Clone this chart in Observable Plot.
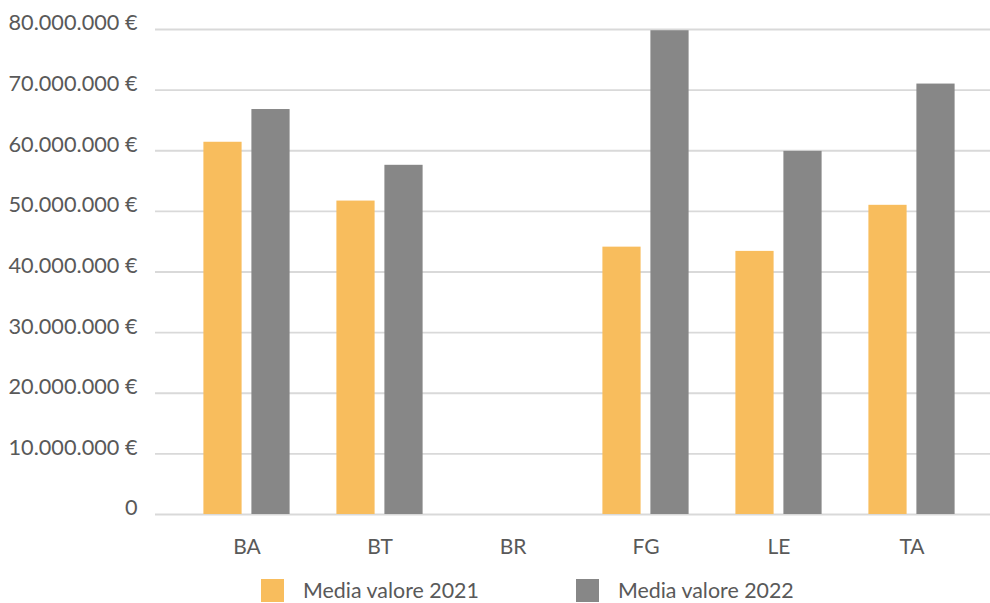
<!DOCTYPE html>
<html>
<head>
<meta charset="utf-8">
<script src="https://cdn.jsdelivr.net/npm/d3@7"></script>
<script src="https://cdn.jsdelivr.net/npm/@observablehq/plot@0.6"></script>
<style>
  html, body { margin: 0; padding: 0; background: #fff; }
  body { width: 990px; height: 603px; overflow: hidden; font-family: Lato, "Open Sans", sans-serif; color: #595959; }
  #legend { display: flex; align-items: flex-start; padding-left: 261px; padding-top: 13px; height: 24px; font-size: 21.4px; }
  .item { display: flex; align-items: center; }
  .item span { line-height: 1.1; }
  .sw { width: 23px; height: 23px; margin-right: 19px; }
</style>
</head>
<body>
<div id="chart"></div>
<div id="legend"></div>
<script>
const categories = ["BA", "BT", "BR", "FG", "LE", "TA"];
const values2021 = [61.4e6, 51.7e6, null, 44.1e6, 43.4e6, 51.0e6];
const values2022 = [66.8e6, 57.6e6, null, 79.8e6, 59.9e6, 71.0e6];
const yTicks = [0, 10e6, 20e6, 30e6, 40e6, 50e6, 60e6, 70e6, 80e6];
const seriesNames = ["Media valore 2021", "Media valore 2022"];
const seriesColors = ["#F8BD5D", "#878787"];

const data2021 = categories.map((c, i) => ({cat: c, v: values2021[i]})).filter(d => d.v != null);
const data2022 = categories.map((c, i) => ({cat: c, v: values2022[i]})).filter(d => d.v != null);

const it = d3.formatLocale({decimal: ",", thousands: ".", grouping: [3], currency: ["", " €"]});
const fmt = it.format(",");
const tickFmt = d => d === 0 ? "0" : fmt(d) + " €";

const inset = 47.4;
const chart = Plot.plot({
  width: 990,
  height: 566,
  marginLeft: 155,
  marginRight: 0,
  marginTop: 29,
  marginBottom: 52,
  style: {fontFamily: "Lato, 'Open Sans', sans-serif", fontSize: "21px", color: "#595959", background: "#fff"},
  x: {domain: categories, padding: 0, insetLeft: 22.6, insetRight: 9.6, label: null},
  y: {domain: [0, 80e6], label: null},
  marks: [
    Plot.ruleY(yTicks, {stroke: "#d9d9d9", strokeWidth: 1.8}),
    Plot.barY(data2021, {x: "cat", y: "v", fill: seriesColors[0], insetLeft: inset, insetRight: inset, dx: -24}),
    Plot.barY(data2022, {x: "cat", y: "v", fill: seriesColors[1], insetLeft: inset, insetRight: inset, dx: 24}),
    Plot.axisY({ticks: yTicks, tickFormat: tickFmt, tickSize: 0, tickPadding: 18, dy: -6, fill: "#595959", fontSize: 21.7, label: null}),
    Plot.axisX({tickSize: 0, tickPadding: 25, fill: "#595959", label: null})
  ]
});
document.getElementById("chart").appendChild(chart);

const legend = document.getElementById("legend");
seriesNames.forEach((name, i) => {
  const item = document.createElement("div");
  item.className = "item";
  if (i > 0) item.style.marginLeft = "97px";
  const sw = document.createElement("div");
  sw.className = "sw";
  sw.style.background = seriesColors[i];
  const label = document.createElement("span");
  label.textContent = name;
  item.appendChild(sw);
  item.appendChild(label);
  legend.appendChild(item);
});
</script>
</body>
</html>
